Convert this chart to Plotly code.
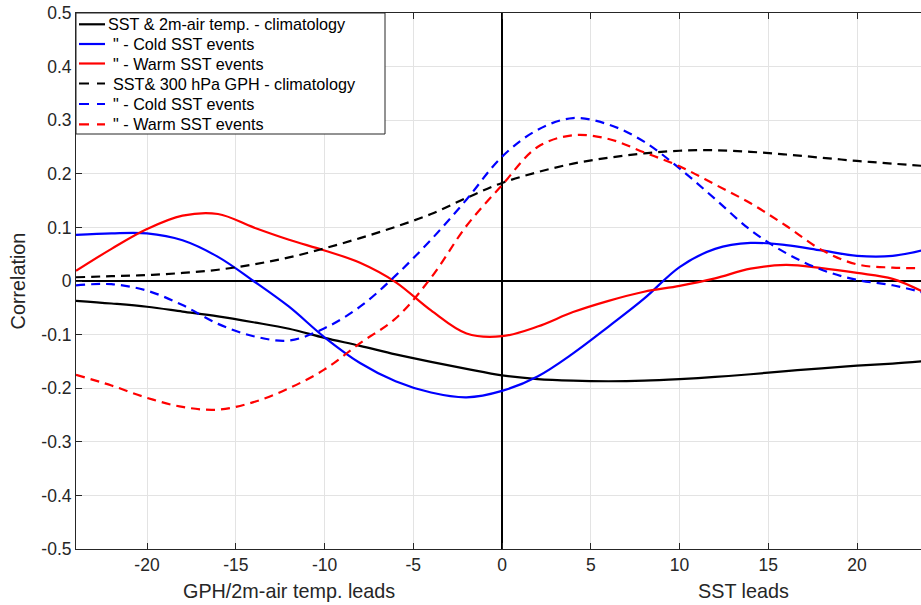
import plotly.graph_objects as go

lags = list(range(-24, 25, 2))

sst_air_clim = [-0.037, -0.042, -0.048, -0.057, -0.066, -0.077, -0.089, -0.106, -0.121, -0.137, -0.151, -0.164,
                -0.176, -0.183, -0.186, -0.187, -0.186, -0.183, -0.179, -0.174, -0.168, -0.163, -0.158, -0.154, -0.149]
sst_air_cold = [0.086, 0.089, 0.089, 0.076, 0.045, 0.0, -0.048, -0.105, -0.153, -0.187, -0.208, -0.217,
                -0.205, -0.178, -0.135, -0.085, -0.033, 0.026, 0.060, 0.071, 0.067, 0.057, 0.047, 0.047, 0.060]
sst_air_warm = [0.019, 0.060, 0.097, 0.122, 0.125, 0.100, 0.077, 0.057, 0.034, -0.002, -0.055, -0.098,
                -0.103, -0.085, -0.058, -0.037, -0.020, -0.009, 0.005, 0.023, 0.030, 0.024, 0.015, 0.004, -0.025]
sst_gph_clim = [0.007, 0.009, 0.011, 0.015, 0.021, 0.031, 0.044, 0.061, 0.080, 0.101, 0.125, 0.155,
                0.183, 0.203, 0.219, 0.230, 0.238, 0.243, 0.244, 0.241, 0.236, 0.230, 0.224, 0.219, 0.214]
sst_gph_cold = [-0.008, -0.006, -0.018, -0.045, -0.080, -0.103, -0.111, -0.088, -0.048, 0.010, 0.077, 0.152,
                0.232, 0.282, 0.304, 0.292, 0.260, 0.210, 0.153, 0.095, 0.052, 0.021, 0.002, -0.008, -0.024]
sst_gph_warm = [-0.175, -0.195, -0.218, -0.235, -0.240, -0.226, -0.200, -0.165, -0.116, -0.070, 0.006, 0.103,
                0.179, 0.250, 0.272, 0.265, 0.240, 0.214, 0.180, 0.145, 0.103, 0.058, 0.031, 0.025, 0.024]

names = ['SST & 2m-air temp. - climatology', '" - Cold SST events', '" - Warm SST events',
         'SST& 300 hPa GPH - climatology', '" - Cold SST events', '" - Warm SST events']
series = [sst_air_clim, sst_air_cold, sst_air_warm, sst_gph_clim, sst_gph_cold, sst_gph_warm]
colors = ['#000000', '#0000ff', '#ff0000', '#000000', '#0000ff', '#ff0000']
dashes = ['solid', 'solid', 'solid', '9px,6px', '9px,6px', '9px,6px']

xticks = [-20, -15, -10, -5, 0, 5, 10, 15, 20]
xtick_labels = ['-20', '-15', '-10', '-5', '0', '5', '10', '15', '20']
yticks = [-0.5, -0.4, -0.3, -0.2, -0.1, 0, 0.1, 0.2, 0.3, 0.4, 0.5]
ytick_labels = ['-0.5', '-0.4', '-0.3', '-0.2', '-0.1', '0', '0.1', '0.2', '0.3', '0.4', '0.5']

W, H = 921, 605
ML, MR, MT, MB = 76, 0, 13, 56
PW, PH = W - ML - MR, H - MT - MB


def px(xp):
    return (xp - ML) / PW


def py(yp):
    return (H - MB - yp) / PH


fig = go.Figure()
for nm, ys, c, d in zip(names, series, colors, dashes):
    fig.add_trace(go.Scatter(x=lags, y=ys, mode='lines', name=nm, showlegend=False,
                             line=dict(color=c, width=2.2, dash=d, shape='spline', smoothing=1.0)))

FAM = 'Liberation Sans, Arial, Helvetica, sans-serif'
tick_font = dict(family=FAM, size=17.5, color='#262626')
label_font = dict(family=FAM, size=19.8, color='#262626')
leg_font = dict(family=FAM, size=16.2, color='#000000')

fig.update_layout(
    width=W, height=H,
    margin=dict(l=ML, r=MR, t=MT, b=MB),
    paper_bgcolor='white', plot_bgcolor='white',
    font=tick_font,
    showlegend=False,
    xaxis=dict(range=[-24, 23.6], tickvals=xticks, ticktext=xtick_labels, ticks='inside', ticklen=6,
               tickcolor='#262626', tickfont=tick_font,
               showline=True, linecolor='#262626', linewidth=1, mirror='ticks',
               showgrid=True, gridcolor='#e3e3e3', gridwidth=1,
               zeroline=True, zerolinecolor='#000000', zerolinewidth=1.5),
    yaxis=dict(range=[-0.5, 0.5], tickvals=yticks, ticktext=ytick_labels, ticks='inside', ticklen=6,
               tickcolor='#262626', tickfont=tick_font, showline=True, linecolor='#262626', linewidth=1, mirror=False,
               showgrid=True, gridcolor='#e3e3e3', gridwidth=1,
               zeroline=True, zerolinecolor='#000000', zerolinewidth=1.5,
               title=dict(text='Correlation', standoff=10, font=label_font)),
)

# axis labels below the x axis
fig.add_annotation(x=-12, y=py(591), xref='x', yref='paper', text='GPH/2m-air temp. leads',
                   showarrow=False, font=label_font, yanchor='middle')
fig.add_annotation(x=13.6, y=py(591), xref='x', yref='paper', text='SST leads',
                   showarrow=False, font=label_font, yanchor='middle')

# legend box (MATLAB style)
fig.add_shape(type='rect', xref='paper', yref='paper', x0=px(76), x1=px(385), y0=py(134), y1=py(13),
              line=dict(color='#262626', width=1), fillcolor='white', layer='above')
row_y = [24.3, 44, 63.5, 83.5, 104, 124.3]
text_x = [106, 111, 111, 111, 111, 111]
for i, (nm, c, d) in enumerate(zip(names, colors, dashes)):
    yy = py(row_y[i])
    fig.add_shape(type='line', xref='paper', yref='paper', x0=px(79), x1=px(105), y0=yy, y1=yy,
                  line=dict(color=c, width=2.2, dash='solid' if d == 'solid' else '10px,8px'), layer='above')
    fig.add_annotation(x=px(text_x[i]), y=yy, xref='paper', yref='paper', text=nm, showarrow=False,
                       xanchor='left', yanchor='middle', font=leg_font)

fig.write_html('out.html', config={'displayModeBar': False},
               post_script="document.body.style.margin='0px';")
